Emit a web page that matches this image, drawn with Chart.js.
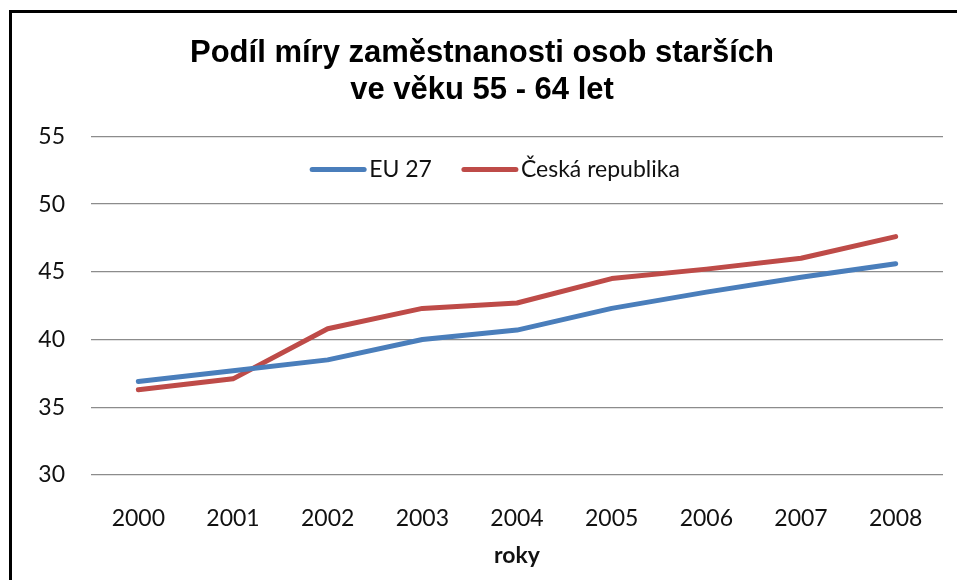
<!DOCTYPE html>
<html>
<head>
<meta charset="utf-8">
<script src="https://cdn.jsdelivr.net/npm/chart.js@4"></script>
<style>
  html, body { margin: 0; padding: 0; background: #ffffff; }
  #wrap { position: relative; width: 957px; height: 580px; overflow: hidden; }
  #frame { position: absolute; left: 9px; top: 10px; width: 960px; height: 600px;
           border-left: 3px solid #000; border-top: 3px solid #000; box-sizing: border-box; }
  #c { position: absolute; left: 0; top: 0; }
</style>
</head>
<body>
<div id="wrap">
  <div id="frame"></div>
  <canvas id="c" width="957" height="580"></canvas>
</div>
<script>
const titleLines = ["Podíl míry zaměstnanosti osob starších", "ve věku 55 - 64 let"];
const years = ["2000", "2001", "2002", "2003", "2004", "2005", "2006", "2007", "2008"];
const eu27 = [36.9, 37.7, 38.5, 40.0, 40.7, 42.3, 43.5, 44.6, 45.6];
const czech = [36.3, 37.1, 40.8, 42.3, 42.7, 44.5, 45.2, 46.0, 47.6];
const seriesNames = ["EU 27", "Česká republika"];
const xAxisTitle = "roky";
const yMin = 30, yMax = 55, yStep = 5;

const tickFont = { family: "Lato", size: 23 };

// Legend drawn inside the plot area, in one row (as in the reference)
const inlineLegend = {
  id: "inlineLegend",
  afterDatasetsDraw(chart) {
    const ctx = chart.ctx;
    const area = chart.chartArea;
    const y = area.top + 33;
    const centerX = 495;
    const boxW = 56, textGap = 3, itemGap = 30;
    ctx.save();
    ctx.font = "23px Lato";
    ctx.textBaseline = "middle";
    ctx.textAlign = "left";
    const items = chart.data.datasets.map(ds => ({ ds, tw: ctx.measureText(ds.label).width }));
    let total = 0;
    items.forEach((it, i) => { total += boxW + textGap + it.tw + (i < items.length - 1 ? itemGap : 0); });
    let x = centerX - total / 2;
    items.forEach(it => {
      ctx.strokeStyle = it.ds.borderColor;
      ctx.lineWidth = 5;
      ctx.lineCap = "round";
      ctx.beginPath();
      ctx.moveTo(x + 2, y);
      ctx.lineTo(x + boxW - 2, y);
      ctx.stroke();
      x += boxW + textGap;
      ctx.fillStyle = "#111";
      ctx.fillText(it.ds.label, x, y);
      x += it.tw + itemGap;
    });
    ctx.restore();
  }
};

new Chart(document.getElementById("c"), {
  type: "line",
  data: {
    labels: years,
    datasets: [
      { label: seriesNames[0], data: eu27, borderColor: "#4A7EBB", backgroundColor: "#4A7EBB",
        borderWidth: 5, pointRadius: 0, tension: 0, borderCapStyle: "round", borderJoinStyle: "round" },
      { label: seriesNames[1], data: czech, borderColor: "#BE4B48", backgroundColor: "#BE4B48",
        borderWidth: 5, pointRadius: 0, tension: 0, borderCapStyle: "round", borderJoinStyle: "round" }
    ]
  },
  plugins: [inlineLegend],
  options: {
    responsive: false,
    animation: false,
    layout: { padding: { left: 21, right: 14, top: 0, bottom: 11 } },
    plugins: {
      title: {
        display: true,
        text: titleLines,
        color: "#000",
        font: { family: "Liberation Sans", size: 31, weight: "bold", lineHeight: 1.2 },
        padding: { top: 35, bottom: 27 }
      },
      legend: { display: false },
      tooltip: { enabled: false }
    },
    scales: {
      x: {
        offset: true,
        grid: { display: false, drawTicks: false },
        border: { display: false },
        ticks: { color: "#111", font: tickFont, padding: 30, maxRotation: 0 },
        title: { display: true, text: xAxisTitle, color: "#111",
                 font: { family: "Lato", size: 23, weight: "bold" }, padding: { top: 0, bottom: 0 } },
        afterFit: (s) => { s.height = 94; }
      },
      y: {
        min: yMin, max: yMax,
        ticks: { stepSize: yStep, color: "#111", font: tickFont, padding: 26 },
        grid: { color: "#8c8c8c", lineWidth: 1.3, drawTicks: false },
        border: { display: false },
        afterFit: (s) => { s.width = 70; }
      }
    }
  }
});
</script>
</body>
</html>
